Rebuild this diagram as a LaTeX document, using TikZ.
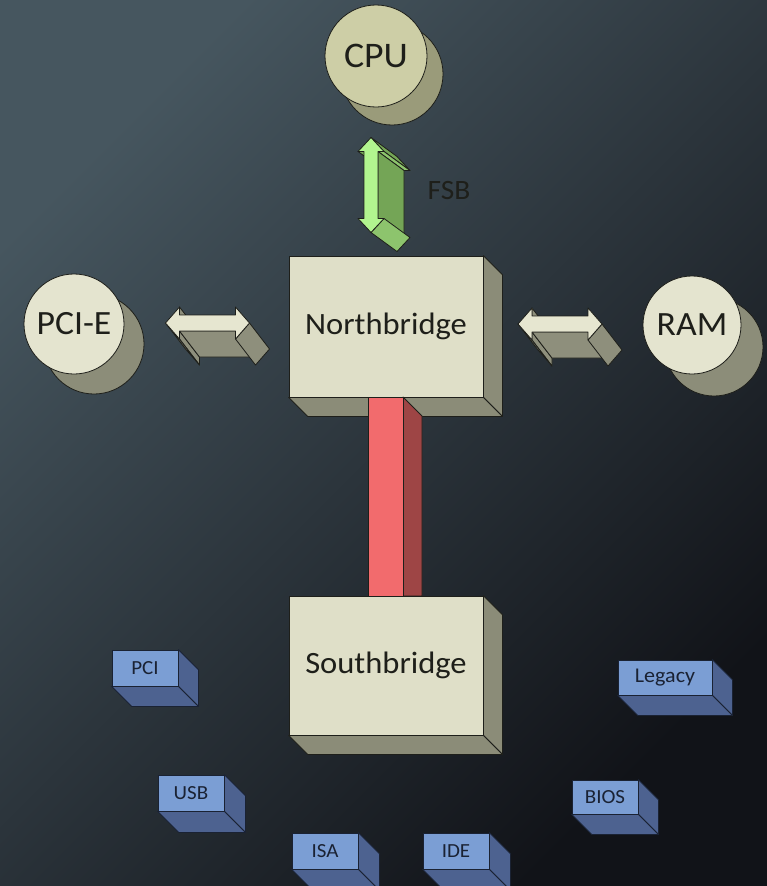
\documentclass[tikz,border=0pt]{standalone}
\usepackage{fontspec}
\setmainfont{Carlito}[FakeStretch=1.05]
\usetikzlibrary{calc}

\definecolor{bgTL}{HTML}{46565F}
\definecolor{bgMid}{HTML}{2B3540}
\definecolor{bgBR}{HTML}{111318}
\definecolor{ink}{HTML}{1E1F1A}
\definecolor{creamF}{HTML}{DFDFC8}
\definecolor{creamS}{HTML}{8B8C78}
\definecolor{discF}{HTML}{E4E4CF}
\definecolor{discS}{HTML}{8C8D79}
\definecolor{cpuF}{HTML}{CDCEA6}
\definecolor{cpuS}{HTML}{9A9B7A}
\definecolor{busF}{HTML}{E6E6D0}
\definecolor{busS}{HTML}{8E8F7C}
\definecolor{fsbF}{HTML}{B2F58F}
\definecolor{fsbS}{HTML}{74A556}
\definecolor{fsbL}{HTML}{8DC46D}
\definecolor{linkF}{HTML}{F26B6D}
\definecolor{linkS}{HTML}{9E4545}
\definecolor{portF}{HTML}{7B9ED4}
\definecolor{portS}{HTML}{4D6290}
\definecolor{portInk}{HTML}{1A2233}

\tikzset{
  edge/.style={draw=ink, line width=0.8pt, line join=round},
  chip/.style={edge, fill=creamF, inner sep=0pt, text=ink,
    font=\fontsize{31}{31}\selectfont},
  chipside/.style={edge, fill=creamS},
  disc/.style={edge, circle, inner sep=0pt, text=ink},
  port/.style={draw=portInk, line width=0.8pt, fill=portF, inner sep=0pt,
    minimum height=36pt, text=portInk, font=\fontsize{20}{20}\selectfont},
  portside/.style={draw=portInk, line width=0.8pt, line join=round, fill=portS},
  busside/.style={edge, fill=busS},
  busfront/.style={edge, fill=busF},
  fsbside/.style={edge, fill=fsbS},
  fsblight/.style={edge, fill=fsbL},
  fsbfront/.style={edge, fill=fsbF},
}

% extruded faces (right and bottom) behind a rectangular node
\newcommand\depthfaces[3]{%
  \filldraw[#3] (#1.north east) -- ++(#2,#2) -- ($(#1.south east)+(#2,#2)$)
    -- (#1.south east) -- cycle;
  \filldraw[#3] (#1.south west) -- (#1.south east) -- ++(#2,#2)
    -- ($(#1.south west)+(#2,#2)$) -- cycle;
}

% horizontal two-headed bus arrow with its extrusion
\newcommand\hbus[1]{%
  \begin{scope}[shift={(#1)}]
    \filldraw[busside] (-28,-16) -- (-28,-8) -- (-8,18) -- (-8,10) -- cycle;
    \filldraw[busside] (-28,8) -- (-28,16) -- (-8,42) -- (-8,34) -- cycle;
    \filldraw[busside] (-28,16) -- (-42,0) -- (-22,26) -- (-8,42) -- cycle;
    \filldraw[busside] (-28,8) -- (28,8) -- (48,34) -- (-8,34) -- cycle;
    \filldraw[busside] (42,0) -- (28,16) -- (48,42) -- (62,26) -- cycle;
    \filldraw[busfront] (-42,0) -- (-28,-16) -- (-28,-8) -- (28,-8) -- (28,-16)
      -- (42,0) -- (28,16) -- (28,8) -- (-28,8) -- (-28,16) -- cycle;
  \end{scope}}

\begin{document}
\begin{tikzpicture}[x=1pt,y=-1pt]
  % backdrop
  \shade[top color=bgTL, middle color=bgMid, bottom color=bgBR, shading angle=45]
    (0,0) rectangle (767,886);
  \useasboundingbox (0,0) rectangle (767,886);

  % processor and memory discs
  \coordinate (cpuC) at (376,56);
  \coordinate (pcieC) at (74,324);
  \coordinate (ramC) at (692,325);
  \filldraw[edge, fill=cpuS] ($(cpuC)+(16,18)$) circle[radius=51pt];
  \node[disc, fill=cpuF, minimum size=102pt, font=\fontsize{36}{36}\selectfont]
    (cpu) at (cpuC) {CPU};
  \filldraw[edge, fill=discS] ($(pcieC)+(20,20)$) circle[radius=50pt];
  \node[disc, fill=discF, minimum size=100pt, font=\fontsize{34}{34}\selectfont]
    (pcie) at (pcieC) {PCI-E};
  \filldraw[edge, fill=discS] ($(ramC)+(22,22)$) circle[radius=49pt];
  \node[disc, fill=discF, minimum size=98pt, font=\fontsize{34}{34}\selectfont]
    (ram) at (ramC) {RAM};

  % front side bus
  \begin{scope}[shift={(371,185)}]
    \filldraw[fsbside] (-7,-33.5) -- (-13,-33.5) -- (13,-14.5) -- (19,-14.5) -- cycle;
    \filldraw[fsbside] (0,-47.5) -- (13,-33.5) -- (39,-14.5) -- (26,-28.5) -- cycle;
    \filldraw[fsblight] (13,-33.5) -- (7,-33.5) -- (33,-14.5) -- (39,-14.5) -- cycle;
    \filldraw[fsbside] (7,-33.5) -- (7,33.5) -- (33,52.5) -- (33,-14.5) -- cycle;
    \filldraw[fsblight] (13,33.5) -- (0,47.5) -- (26,66.5) -- (39,52.5) -- cycle;
    \filldraw[fsbfront] (0,-47.5) -- (13,-33.5) -- (7,-33.5) -- (7,33.5) -- (13,33.5)
      -- (0,47.5) -- (-13,33.5) -- (-7,33.5) -- (-7,-33.5) -- (-13,-33.5) -- cycle;
  \end{scope}
  \node[text=ink, font=\fontsize{28}{28}\selectfont] (fsb) at (449,191) {FSB};

  % northbridge
  \node[chip, minimum width=194pt, minimum height=141pt] (nb) at (386,326.5) {Northbridge};
  \depthfaces{nb}{19}{chipside}

  % buses to PCI-E and RAM
  \hbus{207.5,323}
  \hbus{560,324}

  % link between the bridges
  \coordinate (lnkTop) at (368,397);
  \filldraw[edge, fill=linkS] (403,397) -- (422,416) -- (422,596) -- (403,596) -- cycle;
  \filldraw[edge, fill=linkF] (lnkTop) rectangle (403,596);

  % southbridge
  \node[chip, minimum width=194pt, minimum height=139pt] (sb) at (386,665.5) {Southbridge};
  \depthfaces{sb}{19}{chipside}

  % peripheral interfaces
  \node[port, minimum width=66pt] (pci) at (145,668) {PCI};
  \depthfaces{pci}{20}{portside}
  \node[port, minimum width=66pt] (usb) at (191,793) {USB};
  \depthfaces{usb}{21}{portside}
  \node[port, minimum width=66pt] (isa) at (325,851) {ISA};
  \depthfaces{isa}{21}{portside}
  \node[port, minimum width=66pt] (ide) at (456,851) {IDE};
  \depthfaces{ide}{21}{portside}
  \node[port, minimum width=66pt, minimum height=34pt] (bios) at (605,797) {BIOS};
  \depthfaces{bios}{20}{portside}
  \node[port, minimum width=94pt, minimum height=35pt, font=\fontsize{21}{21}\selectfont]
    (legacy) at (665,677.5) {Legacy};
  \depthfaces{legacy}{20}{portside}
\end{tikzpicture}
\end{document}
